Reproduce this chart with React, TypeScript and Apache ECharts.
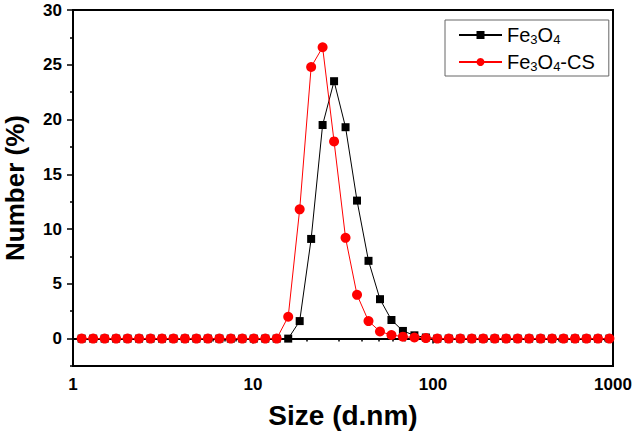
import React, { useEffect, useRef } from "react";
import * as echarts from "echarts";

const sizes = [
  1.117, 1.294, 1.499, 1.736, 2.01, 2.328, 2.696, 3.122, 3.615, 4.187, 4.849, 5.615,
  6.503, 7.531, 8.721, 10.1, 11.7, 13.54, 15.69, 18.17, 21.04, 24.36, 28.21, 32.67,
  37.84, 43.82, 50.75, 58.77, 68.06, 78.82, 91.28, 105.7, 122.4, 141.8, 164.2, 190.1,
  220.2, 255.0, 295.3, 342.0, 396.1, 458.7, 531.2, 615.1, 712.4, 825.0, 955.4,
];

const fe3o4 = [
  0, 0, 0, 0, 0, 0, 0, 0, 0, 0, 0, 0, 0, 0, 0, 0, 0, 0, 0,
  1.6, 9.1, 19.5, 23.5, 19.3, 12.6, 7.1, 3.6, 1.7, 0.7, 0.3, 0.1,
  0, 0, 0, 0, 0, 0, 0, 0, 0, 0, 0, 0, 0, 0, 0, 0,
];

const fe3o4cs = [
  0, 0, 0, 0, 0, 0, 0, 0, 0, 0, 0, 0, 0, 0, 0, 0, 0, 0,
  2.0, 11.8, 24.8, 26.6, 18.0, 9.2, 4.0, 1.6, 0.65, 0.33, 0.18, 0.1, 0.05,
  0, 0, 0, 0, 0, 0, 0, 0, 0, 0, 0, 0, 0, 0, 0, 0,
];

const seriesNames = ["Fe3O4", "Fe3O4-CS"];
const xMajorTicks = [1, 10, 100, 1000];
const xMinorTicks = [
  2, 3, 4, 5, 6, 7, 8, 9, 20, 30, 40, 50, 60, 70, 80, 90, 200, 300, 400, 500, 600, 700, 800, 900,
];
const yMajorTicks = [0, 5, 10, 15, 20, 25, 30];
const yMinorTicks = [-2.5, 2.5, 7.5, 12.5, 17.5, 22.5, 27.5];

const FONT = "'Liberation Sans', Arial, sans-serif";

export default function App() {
  const ref = useRef<HTMLDivElement>(null);
  useEffect(() => {
    document.body.style.margin = "0";
    if (!ref.current) return;
    const chart = echarts.init(ref.current, null, { renderer: "svg" });
    const baseLabel = {
      fontFamily: FONT,
      fontWeight: "bold" as const,
      fontSize: 17,
      color: "#000",
      formatter: (v: number) => String(v),
    };
    const axisLineStyle = { color: "#000", width: 2 };
    chart.setOption({
      animation: false,
      backgroundColor: "#fff",
      grid: {
        left: 73,
        right: 20,
        top: 10,
        bottom: 72,
        show: true,
        borderColor: "#000",
        borderWidth: 2,
        outerBoundsMode: "none",
        containLabel: false,
      },
      legend: {
        left: 445,
        top: 20,
        orient: "vertical",
        padding: [4, 14, 3, 13],
        itemGap: 5,
        itemWidth: 43,
        itemHeight: 10,
        borderColor: "#666",
        borderWidth: 1,
        backgroundColor: "#fff",
        data: seriesNames,
        formatter: (name: string) =>
          name === "Fe3O4" ? "Fe{s|3}O{s|4}" : "Fe{s|3}O{s|4}-CS",
        textStyle: {
          fontFamily: FONT,
          fontSize: 20,
          lineHeight: 22,
          color: "#000",
          rich: {
            s: { fontFamily: FONT, fontSize: 13, lineHeight: 12, verticalAlign: "bottom", color: "#000" },
          },
        },
      },
      xAxis: [
        {
          type: "log",
          logBase: 10,
          min: 1,
          max: 1000,
          position: "bottom",
          name: "Size (d.nm)",
          nameLocation: "middle",
          nameGap: 35,
          nameTextStyle: { fontFamily: FONT, fontWeight: "bold", fontSize: 28, color: "#000" },
          axisLine: { show: true, lineStyle: axisLineStyle },
          axisTick: { show: true, customValues: xMajorTicks, length: 5, lineStyle: { width: 1.5, color: "#000" } },
          axisLabel: { ...baseLabel, customValues: xMajorTicks, margin: 10 },
          splitLine: { show: false },
          minorTick: { show: false },
        },
        {
          // helper axis in log10 space, only for the 2..9 minor ticks of each decade
          type: "value",
          min: 0,
          max: 3,
          position: "bottom",
          axisLine: { show: true, lineStyle: axisLineStyle },
          axisTick: {
            show: true,
            customValues: xMinorTicks.map((v) => Math.log10(v)),
            length: 3,
            lineStyle: { width: 1.5, color: "#000" },
          },
          axisLabel: { show: false },
          splitLine: { show: false },
        },
      ],
      yAxis: [
        {
          type: "value",
          min: -2.5,
          max: 30,
          interval: 2.5,
          position: "left",
          name: "Number (%)",
          nameLocation: "middle",
          nameRotate: 90,
          nameGap: 45,
          nameTextStyle: { fontFamily: FONT, fontWeight: "bold", fontSize: 26, color: "#000" },
          axisLine: { show: true, lineStyle: axisLineStyle },
          axisTick: { show: true, customValues: yMajorTicks, length: 6, lineStyle: { width: 1.5, color: "#000" } },
          axisLabel: { ...baseLabel, customValues: yMajorTicks, margin: 11 },
          splitLine: { show: false },
        },
        {
          type: "value",
          min: -2.5,
          max: 30,
          interval: 2.5,
          position: "left",
          axisLine: { show: true, lineStyle: axisLineStyle },
          axisTick: { show: true, customValues: yMinorTicks, length: 3, lineStyle: { width: 1.5, color: "#000" } },
          axisLabel: { show: false },
          splitLine: { show: false },
        },
      ],
      series: [
        {
          name: seriesNames[0],
          type: "line",
          xAxisIndex: 0,
          yAxisIndex: 0,
          data: sizes.map((s, i) => [s, fe3o4[i]]),
          symbol: "rect",
          symbolSize: 8,
          itemStyle: { color: "#000" },
          lineStyle: { color: "#000", width: 1 },
          z: 2,
        },
        {
          name: seriesNames[1],
          type: "line",
          xAxisIndex: 0,
          yAxisIndex: 0,
          data: sizes.map((s, i) => [s, fe3o4cs[i]]),
          symbol: "circle",
          symbolSize: 10,
          itemStyle: { color: "#ff0000" },
          lineStyle: { color: "#ff0000", width: 1 },
          z: 3,
        },
      ],
    });
    return () => chart.dispose();
  }, []);
  return <div ref={ref} style={{ width: 633, height: 438 }} />;
}
